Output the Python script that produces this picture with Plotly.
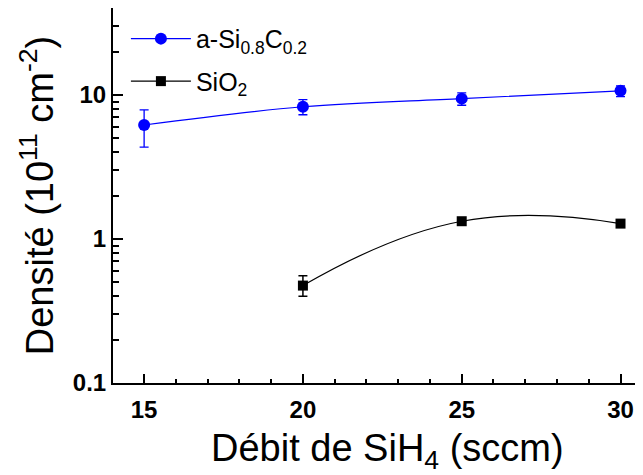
import plotly.graph_objects as go

x_sic = [15, 20, 25, 30]
y_sic = [6.2, 8.3, 9.45, 10.7]
err_sic_plus = [1.7, 1.0, 0.9, 0.9]
err_sic_minus = [1.85, 1.0, 0.95, 0.95]

x_sio2 = [20, 25, 30]
y_sio2 = [0.475, 1.33, 1.28]
err_sio2_plus = [0.08, 0.0, 0.0]
err_sio2_minus = [0.075, 0.0, 0.0]

x_ticks = [15, 20, 25, 30]
y_ticks = [0.1, 1, 10]
y_ticklabels = ["0.1", "1", "10"]

BLUE = "#0000ff"
FONT = "Liberation Sans, Arial, sans-serif"

fig = go.Figure()
fig.add_trace(go.Scatter(
    x=x_sic, y=y_sic, mode="lines+markers", name="a-Si<sub>0.8</sub>C<sub>0.2</sub>",
    legendgroup="a",
    line=dict(color=BLUE, width=1.2, shape="spline", smoothing=1.0),
    marker=dict(color=BLUE, size=12, symbol="circle"),
    error_y=dict(type="data", array=err_sic_plus, arrayminus=err_sic_minus,
                 color=BLUE, thickness=1.3, width=4.5),
))
fig.add_trace(go.Scatter(
    x=x_sio2, y=y_sio2, mode="lines+markers", name="SiO<sub>2</sub>",
    legendgroup="b",
    line=dict(color="black", width=1.2, shape="spline", smoothing=1.3),
    marker=dict(color="black", size=10, symbol="square"),
    error_y=dict(type="data", array=err_sio2_plus, arrayminus=err_sio2_minus,
                 color="black", thickness=1.5, width=4.5),
))

minor_y = [m * 10 ** e for e in (-1, 0, 1) for m in range(2, 10)] + [20, 30]

fig.update_layout(
    width=643, height=475,
    margin=dict(l=105, r=0, t=0, b=100),
    paper_bgcolor="white", plot_bgcolor="white",
    font=dict(family=FONT, color="black"),
    showlegend=True,
    legend=dict(x=0.024, y=0.979, xanchor="left", yanchor="top",
                font=dict(size=25, family=FONT), bgcolor="rgba(0,0,0,0)",
                itemwidth=60, traceorder="grouped", tracegroupgap=7),
    xaxis=dict(
        range=[14.02, 30.96], tickvals=x_ticks, ticktext=[str(v) for v in x_ticks],
        ticks="inside", ticklen=9, tickwidth=2, tickcolor="black",
        showline=True, linewidth=2, linecolor="black", mirror=True,
        showgrid=False, zeroline=False, automargin=False,
        tickfont=dict(size=24, family=FONT, weight="bold"),
        ticklabelstandoff=4,
        minor=dict(dtick=1, ticks="inside", ticklen=4.5, tickwidth=2, tickcolor="black", showgrid=False),
    ),
    yaxis=dict(
        type="log", range=[-1, 1.605], tickvals=y_ticks, ticktext=y_ticklabels,
        ticks="inside", ticklen=9.5, tickwidth=2, tickcolor="black",
        showline=True, linewidth=2, linecolor="black",
        showgrid=False, zeroline=False, automargin=False,
        tickfont=dict(size=24, family=FONT, weight="bold"),
        minor=dict(tickvals=minor_y, ticks="inside", ticklen=5.5, tickwidth=2, tickcolor="black", showgrid=False),
        title=dict(text="Densité (10<sup>11</sup> cm<sup>-2</sup>)", font=dict(size=38, family=FONT), standoff=8),
    ),
    annotations=[dict(
        text="Débit de SiH<sub>4</sub> (sccm)", xref="paper", yref="paper",
        x=0.510, y=0, xanchor="center", yanchor="top", yshift=-42,
        showarrow=False, font=dict(size=38, family=FONT, color="black"),
    )],
)

fig.write_html("out.html")
